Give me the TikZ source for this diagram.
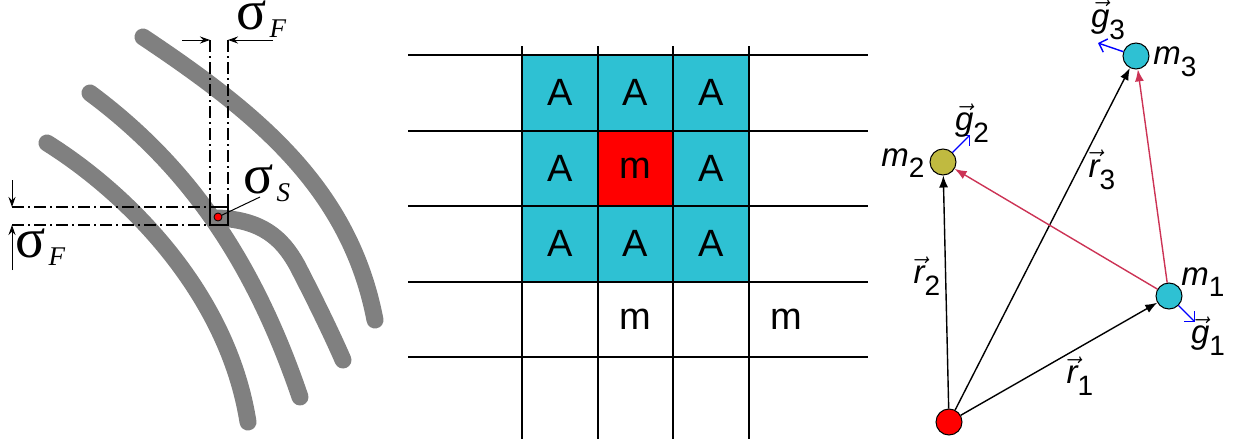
\documentclass[tikz,border=0pt]{standalone}
\usepackage{amsmath}
\usepackage{fontspec}
\setmainfont{Liberation Sans}
\newfontfamily\serif{Liberation Serif}
\usetikzlibrary{arrows.meta}

\definecolor{cellcyan}{RGB}{46,193,211}
\definecolor{massolive}{RGB}{192,186,64}
\definecolor{linkred}{RGB}{204,51,85}
\definecolor{strand}{RGB}{128,128,128}

% vector label with subscript, e.g. \vlab{r}{1}
\newcommand\vlab[2]{$\vec{\text{\itshape #1}}$\raisebox{-0.35em}{\fontsize{14}{14}\selectfont #2}}
% mass label, e.g. \mlab{2}
\newcommand\mlab[1]{\textit{m}\raisebox{-0.35em}{\fontsize{14}{14}\selectfont #1}}
% sigma with an italic index
\newcommand\slab[1]{{\serif σ}\kern1.5pt\raisebox{-4pt}{\fontsize{13.5}{14}\selectfont\serif\itshape #1}}

\begin{document}
\begin{tikzpicture}[x=0.5pt, y=-0.5pt,
    fiber/.style = {draw=strand, line width=8.5pt, line cap=round},
    guide/.style = {line width=0.6pt, dash pattern=on 6pt off 2pt on 1pt off 2pt},
    dim/.style = {line width=0.5pt, -{Stealth[length=5pt, width=3.5pt]}},
    sig/.style = {inner sep=0pt, anchor=base west, text height=9pt,
                  font=\fontsize{28}{30}\selectfont},
    cell/.style = {minimum size=37.75pt, inner sep=0pt, fill=cellcyan,
                   font=\fontsize{19}{19}\selectfont},
    gridline/.style = {line width=1pt},
    mass/.style = {circle, draw, line width=0.5pt, minimum size=13pt, inner sep=0pt},
    posvec/.style = {line width=0.7pt, -{Latex[length=6pt, width=4.5pt]}},
    relvec/.style = {posvec, draw=linkred, -{Latex[length=6pt, width=4.5pt, fill=linkred]}},
    grad/.style = {draw=blue, line width=0.7pt, -{Straight Barb[length=3.5pt, width=7pt]}},
    lab/.style = {inner sep=0pt, font=\fontsize{16.5}{18}\selectfont}]
  \useasboundingbox (0,0) rectangle (1233,439);

  % --- fibre bundle ---
  \draw[fiber] (47,143) .. controls (130,195) and (228,295) .. (248,422);
  \draw[fiber] (90,93) .. controls (180,160) and (250,250) .. (300,397);
  \draw[fiber] (218,218) .. controls (262,220) and (282,238) .. (297,265)
               .. controls (310,290) and (330,330) .. (343,360);
  \draw[fiber] (143,37) .. controls (260,115) and (350,190) .. (375,320);

  \coordinate (vl) at (210,40);
  \coordinate (vr) at (228,40);
  \coordinate (ht) at (12,207);
  \coordinate (hb) at (12,225);
  \draw[guide] (vl) -- (210,223);
  \draw[guide] (vr) -- (228,222);
  \draw[guide] (ht) -- (218,207);
  \draw[guide] (hb) -- (218,225);
  \draw[line width=0.6pt] (210,207) rectangle (228,225);

  \draw[dim] (182,40) -- (vl);
  \draw[dim] (273,40) -- (vr);
  \draw[dim] (12,180) -- (ht);
  \draw[dim] (12,270) -- (hb);

  \node[circle, draw, fill=red, line width=0.4pt, minimum size=4pt, inner sep=0pt] (spot) at (218,217) {};
  \coordinate (tag) at (260,197);
  \draw[line width=0.5pt] (spot) -- (tag);

  \node[sig] (sF) at (236,30) {\slab{F}};
  \node[sig] (sS) at (243,193) {\slab{S}};
  \node[sig] (sFl) at (15,257) {\slab{F}};

  % --- cell grid ---
  \foreach \c/\r in {0/0,1/0,2/0,0/1,2/1,0/2,1/2,2/2}
    \node[cell] (a\c\r) at ({522+75.5*(\c+0.5)},{55+75.5*(\r+0.5)}) {A};
  \node[cell, fill=red] (mc) at ({522+75.5*1.5},{55+75.5*1.5}) {m};
  \node[cell, fill=none] (mb1) at ({522+75.5*1.5},{55+75.5*3.5}) {m};
  \node[cell, fill=none] (mb2) at ({522+75.5*3.5},{55+75.5*3.5}) {m};

  \foreach \k in {0,...,4}
    \draw[gridline] (408,{55+75.5*\k}) -- (868,{55+75.5*\k});
  \foreach \k in {0,...,3}
    \draw[gridline] ({522+75.5*\k},46) -- ({522+75.5*\k},439);

  % --- masses and vectors ---
  \node[mass, fill=red] (o) at (949,422) {};
  \node[mass, fill=cellcyan] (m1) at (1169,296) {};
  \node[mass, fill=massolive] (m2) at (943,162) {};
  \node[mass, fill=cellcyan] (m3) at (1136,56) {};

  \draw[posvec] (o) -- (m1);
  \draw[posvec] (o) -- (m2);
  \draw[posvec] (o) -- (m3);
  \draw[relvec] (m1) -- (m2);
  \draw[relvec] (m1) -- (m3);

  \coordinate (g1) at (1195,322);
  \coordinate (g2) at (970,135);
  \coordinate (g3) at (1098,43);
  \draw[grad] (m1) -- (g1);
  \draw[grad] (m2) -- (g2);
  \draw[grad] (m3) -- (g3);

  \node[lab] at (1203,282) {\mlab{1}};
  \node[lab] at (903,163) {\mlab{2}};
  \node[lab] at (1175,62) {\mlab{3}};
  \node[lab] at (1208,336) {\vlab{g}{1}};
  \node[lab] at (972,123) {\vlab{g}{2}};
  \node[lab] at (1108,20) {\vlab{g}{3}};
  \node[lab] at (1080,376) {\vlab{r}{1}};
  \node[lab] at (927,276) {\vlab{r}{2}};
  \node[lab] at (1102,170) {\vlab{r}{3}};
\end{tikzpicture}
\end{document}
